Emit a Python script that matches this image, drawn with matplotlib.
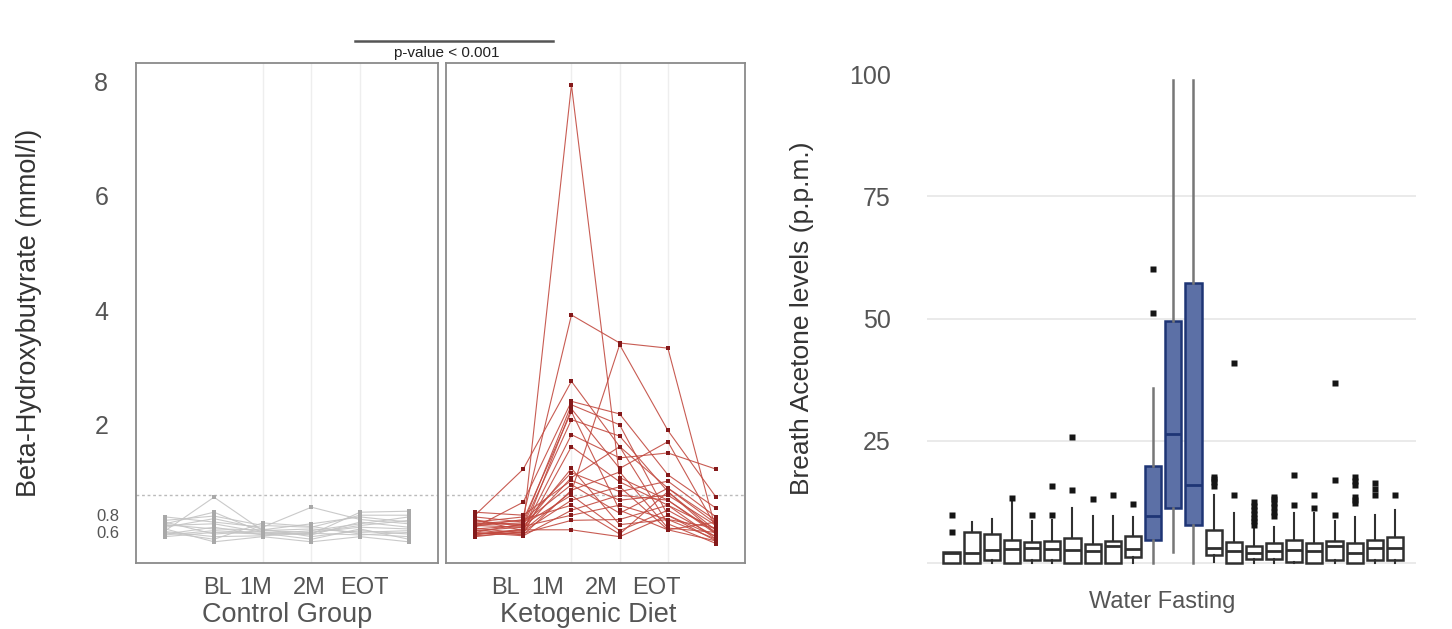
import numpy as np
import matplotlib
matplotlib.use("Agg")
import matplotlib.pyplot as plt
from matplotlib.lines import Line2D

plt.rcParams['font.family'] = ['Liberation Sans', 'DejaVu Sans']

# ---- beta-hydroxybutyrate, one row per subject, six visits ----
visits = [1, 2, 3, 4, 5, 6]
visit_labels = ['BL', '1M', '2M', 'EOT']

control_bhb = [
    [0.62, 0.98, 0.62, 0.60, 0.66, 0.64],
    [0.70, 0.83, 0.60, 0.58, 0.83, 0.84],
    [0.78, 0.72, 0.66, 0.88, 0.75, 0.70],
    [0.55, 0.60, 0.58, 0.62, 0.70, 0.78],
    [0.66, 0.76, 0.64, 0.55, 0.62, 0.58],
    [0.60, 0.52, 0.71, 0.67, 0.58, 0.55],
    [0.58, 0.66, 0.57, 0.60, 0.68, 0.74],
    [0.72, 0.58, 0.62, 0.64, 0.60, 0.62],
    [0.64, 0.49, 0.55, 0.49, 0.55, 0.49],
    [0.68, 0.70, 0.60, 0.57, 0.72, 0.66],
    [0.57, 0.62, 0.59, 0.52, 0.64, 0.52],
    [0.74, 0.79, 0.68, 0.66, 0.80, 0.80],
    [0.61, 0.55, 0.56, 0.59, 0.57, 0.60],
    [0.69, 0.64, 0.63, 0.70, 0.78, 0.72],
]

keto_bhb = [
    [0.62, 0.66, 7.94, 1.25, 0.95, 0.60],
    [0.72, 0.78, 3.92, 3.43, 3.34, 0.62],
    [0.58, 0.62, 1.05, 3.40, 1.92, 0.98],
    [0.80, 1.37, 2.76, 1.69, 1.10, 0.70],
    [0.66, 0.93, 2.41, 2.19, 1.29, 0.87],
    [0.60, 0.70, 2.35, 2.00, 0.80, 0.55],
    [0.56, 0.60, 2.28, 1.38, 1.76, 0.66],
    [0.70, 0.74, 2.23, 0.85, 0.63, 0.50],
    [0.64, 0.68, 2.09, 1.84, 1.05, 0.58],
    [0.75, 0.62, 1.86, 1.53, 1.60, 1.37],
    [0.59, 0.58, 1.69, 1.19, 0.90, 0.64],
    [0.68, 0.66, 1.38, 0.69, 0.75, 0.52],
    [0.78, 0.72, 1.32, 1.05, 1.20, 0.78],
    [0.57, 0.64, 1.25, 1.69, 0.70, 0.47],
    [0.83, 0.80, 1.21, 0.95, 1.00, 0.68],
    [0.63, 0.57, 1.07, 1.33, 0.65, 0.60],
    [0.71, 0.69, 1.00, 0.62, 0.85, 0.55],
    [0.55, 0.61, 0.95, 1.12, 0.63, 0.72],
    [0.67, 0.75, 0.90, 0.58, 1.05, 0.62],
    [0.60, 0.56, 0.85, 1.00, 0.95, 0.58],
    [0.74, 0.67, 0.80, 0.90, 0.75, 0.65],
    [0.65, 0.59, 0.74, 0.75, 0.90, 0.52],
    [0.58, 0.63, 0.63, 0.55, 0.80, 0.50],
    [0.69, 0.71, 1.15, 0.82, 1.10, 0.74],
]
bhb_threshold = 1.0

# ---- breath acetone (p.p.m.), 23 water-fasting days ----
acetone_q1 = [0, 0, 0.6, 0, 0.6, 0.6, 0.1, 0, 0, 1.3, 4.8, 11.2, 7.8,
              1.6, 0, 0.8, 0.8, 0.3, 0.1, 0.6, 0.1, 0.6, 0.6]
acetone_med = [2.1, 2.1, 2.7, 2.9, 3.0, 2.8, 2.7, 2.5, 3.5, 2.8, 9.6, 26.4, 16.0,
               3.0, 2.5, 2.1, 2.5, 2.7, 2.4, 3.5, 2.1, 3.0, 3.0]
acetone_q3 = [2.3, 6.4, 5.9, 4.8, 4.2, 4.5, 5.2, 3.9, 4.5, 5.5, 19.8, 49.5, 57.2,
              6.7, 4.2, 3.5, 4.0, 4.8, 4.0, 4.4, 4.0, 4.8, 5.4]
acetone_lo = [0, 0, 0, 0, 0, 0, 0, 0, 0, 0, 0, 2.3, 0,
              0.3, 0, 0, 0, 0, 0, 0, 0, 0, 0]
acetone_hi = [2.3, 8.4, 9.1, 12.6, 8.6, 8.8, 11.2, 9.6, 9.6, 9.5, 35.7, 98.8, 98.8,
              13.9, 10.2, 7.1, 7.4, 10.2, 10.2, 8.5, 9.5, 9.8, 10.8]
acetone_out = [
    [6.3, 9.8], [], [], [13.2], [9.8], [9.8, 15.7], [14.9, 25.8], [13.0],
    [13.9], [12.0], [51.1, 60.1], [], [],
    [15.8, 16.5, 17.2, 17.6], [13.9, 41.0],
    [7.8, 8.5, 9.3, 10.0, 10.8, 11.6, 12.5],
    [9.6, 10.5, 11.4, 12.3, 13.0, 13.6],
    [11.9, 18.0], [11.2, 13.9], [9.8, 17.0, 36.8],
    [12.2, 12.9, 13.6, 15.9, 16.8, 17.6], [13.9, 15.2, 16.3], [13.9],
]
peak_days = [11, 12, 13]

# y-axis stretch for the BHB panels: linear above 2, opened up below it
stretch_vals = [-20, 0, 0.6, 0.8, 1.0, 2, 8, 40]
stretch_disp = [-30.78, -0.78, 0.12, 0.42, 0.77, 2, 8, 40]


def fwd(v):
    return np.interp(v, stretch_vals, stretch_disp)


def inv(d):
    return np.interp(d, stretch_disp, stretch_vals)


fig = plt.figure(figsize=(14.52, 6.29), dpi=100)
ax_c = fig.add_axes([0.0937, 0.1045, 0.2080, 0.795])
ax_k = fig.add_axes([0.3072, 0.1045, 0.2059, 0.795])

grey_txt = '#555555'
panels = [
    (ax_c, control_bhb, '#c4c4c4', '#a8a8a8', 'Control Group', [2.07, 2.86, 3.95, 5.08], 0.499),
    (ax_k, keto_bhb, '#c24a40', '#84191a', 'Ketogenic Diet', [1.64, 2.51, 3.63, 4.77], 0.476),
]
for ax, rows, lc, pc, name, tickpos, xlab in panels:
    ax.set_yscale('function', functions=(fwd, inv))
    ax.set_ylim(0.24, 8.32)
    ax.set_xlim(0.4, 6.6)
    for c in [3, 4, 5]:
        ax.axvline(c, color='#eeeeee', lw=1.0, zorder=0)
    ax.axhline(bhb_threshold, color='#bbbbbb', lw=1.0, ls=(0, (2, 2)), zorder=1)
    for r in rows:
        ax.plot(visits, r, color=lc, lw=0.8, alpha=0.9, zorder=2)
        ax.plot(visits, r, ls='none', marker='s', ms=2.6, color=pc, mew=0, zorder=3)
    for s in ax.spines.values():
        s.set_color('#8a8a8a')
        s.set_linewidth(1.3)
    ax.set_xticks(tickpos)
    ax.set_xticklabels(visit_labels, fontsize=17, color=grey_txt)
    ax.tick_params(axis='x', length=0, pad=10)
    ax.set_xlabel(name, fontsize=19.5, color=grey_txt)
    ax.xaxis.set_label_coords(xlab, -0.078)

ax_c.set_yticks([0.6, 0.8, 2, 4, 6, 8])
ax_c.set_yticklabels(['0.6', '0.8', '2', '4', '6', '8'], color=grey_txt)
ax_c.tick_params(axis='y', length=0)
for i, t in enumerate(ax_c.yaxis.get_major_ticks()):
    if i < 2:
        t.label1.set_fontsize(12)
        t.set_pad(12)
    else:
        t.label1.set_fontsize(18)
        t.set_pad(20)
ax_c.set_ylabel('Beta-Hydroxybutyrate (mmol/l)', fontsize=19.5, color='#333333')
ax_c.yaxis.set_label_coords(-0.31, 0.5)
ax_k.set_yticks([])

# significance bracket between the groups
fig.add_artist(Line2D([0.2445, 0.3809], [0.9353, 0.9353], color='#555555', lw=1.8))
fig.text(0.3076, 0.9162, 'p-value < 0.001', fontsize=11, ha='center', va='center',
         color='#222222')

# ---- breath acetone boxplots ----
ax_b = fig.add_axes([0.6384, 0.0816, 0.3368, 0.824])
stats = []
for i in range(len(acetone_med)):
    stats.append(dict(q1=acetone_q1[i], med=acetone_med[i], q3=acetone_q3[i],
                      whislo=acetone_lo[i], whishi=acetone_hi[i],
                      fliers=acetone_out[i]))
days = np.arange(1, len(stats) + 1)
for i, st in enumerate(stats):
    blue = days[i] in peak_days
    edge = '#1e3575' if blue else '#303030'
    ax_b.bxp([st], positions=[days[i]], widths=0.8, patch_artist=True,
             showcaps=False,
             boxprops=dict(facecolor='#5c70a6' if blue else 'white',
                           edgecolor=edge, linewidth=1.8),
             medianprops=dict(color=edge, linewidth=2.0),
             whiskerprops=dict(color='#777777' if blue else '#303030',
                               linewidth=1.8 if blue else 1.5),
             flierprops=dict(marker='s', markersize=4.2, markerfacecolor='#151515',
                             markeredgecolor='none'))

ax_b.set_xlim(-0.22, 24.04)
ax_b.set_ylim(-3, 103)
ax_b.set_yticks([0, 25, 50, 75, 100])
ax_b.set_yticklabels(['', '25', '50', '75', '100'], fontsize=18, color=grey_txt)
ax_b.grid(axis='y', color='#e6e6e6', lw=1.2)
ax_b.get_ygridlines()[-1].set_visible(False)
ax_b.set_axisbelow(True)
ax_b.tick_params(axis='y', length=0, pad=26)
ax_b.set_xticks([])
for s in ax_b.spines.values():
    s.set_visible(False)
ax_b.set_ylabel('Breath Acetone levels (p.p.m.)', fontsize=19, color='#333333')
ax_b.yaxis.set_label_coords(-0.232, 0.5)
ax_b.set_xlabel('Water Fasting', fontsize=17, color=grey_txt)
ax_b.xaxis.set_label_coords(0.48, -0.025)

fig.savefig('out.png', dpi=100)
